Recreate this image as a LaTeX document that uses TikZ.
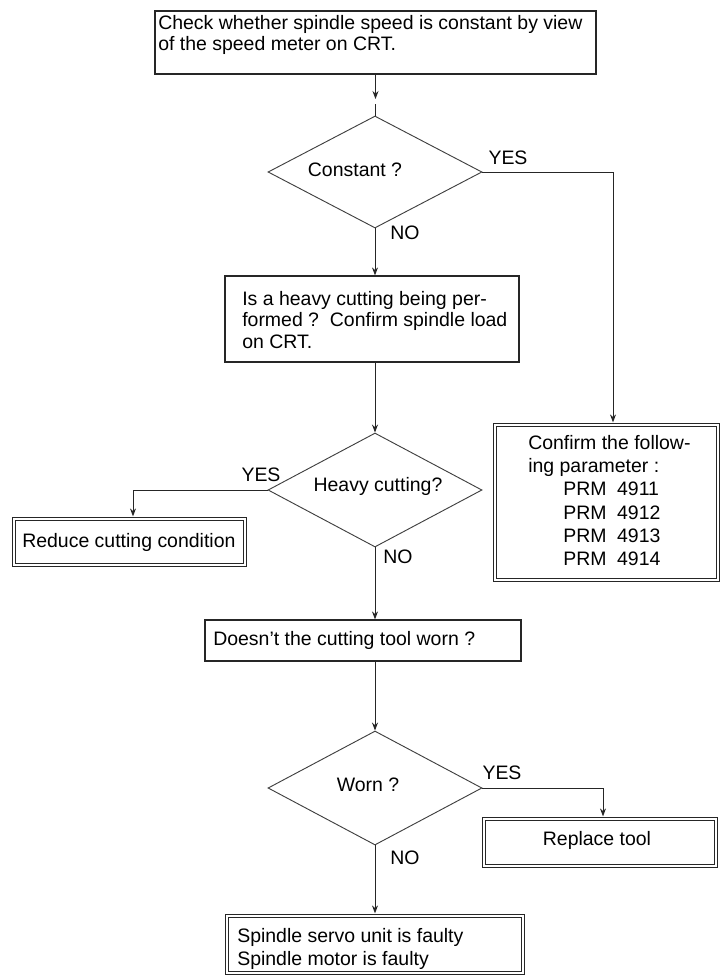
\documentclass[tikz,border=0pt]{standalone}
\usepackage{fontspec}
\setmainfont{Liberation Sans}
\usetikzlibrary{shapes.geometric,arrows.meta}
\begin{document}
\begin{tikzpicture}[x=0.75pt,y=-0.75pt,
  every node/.style={font=\fontsize{14.6}{16.1}\selectfont, inner sep=0pt, text=black},
  box/.style={draw=black!85, line width=0.9pt, inner sep=0pt},
  dbox/.style={draw=black!85, line width=0.7pt, double, double distance=2.2pt, inner sep=0pt},
  dia/.style={diamond, draw=black!75, line width=0.7pt, inner sep=0pt},
  conn/.style={draw=black!85, line width=0.7pt},
  arr/.style={conn, -{Stealth[length=6pt,width=4.5pt]}},
  darr/.style={arr, shorten >=1.6pt},
  txt/.style={anchor=west, align=left},
  lbl/.style={anchor=center}
]
\useasboundingbox (0,0) rectangle (721,976);

% boxes
\node[box, minimum width=330.75pt, minimum height=47.25pt] (b1) at (375.5,42.5) {};
\node[dia, minimum width=160.5pt, minimum height=84pt] (d1) at (375,172) {};
\node[box, minimum width=220.5pt, minimum height=64.5pt] (b2) at (372,319) {};
\node[dia, minimum width=160.5pt, minimum height=85.5pt] (d2) at (375,490) {};
\node[dbox, minimum width=173.25pt, minimum height=34.5pt] (reduce) at (129.5,542) {};
\node[dbox, minimum width=167.25pt, minimum height=116.25pt] (confirm) at (606.5,502.5) {};
\node[box, minimum width=237pt, minimum height=30.75pt] (b3) at (363,640.5) {};
\node[dia, minimum width=160.5pt, minimum height=85.5pt] (d3) at (375,788) {};
\node[dbox, minimum width=174pt, minimum height=35.25pt] (replace) at (600,842.5) {};
\node[dbox, minimum width=222pt, minimum height=42.75pt] (final) at (375,944.5) {};

% texts
\node[txt] (t1) at (158,35) {Check whether spindle speed is constant by view\\of the speed meter on CRT.};
\node[txt] (t2) at (242,320) {Is a heavy cutting being per-\\formed ?\ \ Confirm spindle load\\on CRT.};
\node[txt, font=\fontsize{14.6}{17.5}\selectfont] (t3) at (528,500.5) {Confirm the follow-\\ing parameter :\\\hspace*{26.25pt}PRM\hspace{8pt}4911\\\hspace*{26.25pt}PRM\hspace{8pt}4912\\\hspace*{26.25pt}PRM\hspace{8pt}4913\\\hspace*{26.25pt}PRM\hspace{8pt}4914};
\node[txt] (t4) at (22,542) {Reduce cutting condition};
\node[txt] (t5) at (213,640) {Doesn’t the cutting tool worn ?};
\node[lbl] (t6) at (597,840) {Replace tool};
\node[txt, font=\fontsize{14.6}{17.25}\selectfont] (t7) at (237,948.5) {Spindle servo unit is faulty\\Spindle motor is faulty};

% labels
\node[lbl] (l1) at (355,170) {Constant ?};
\node[lbl] (y1) at (508,158) {YES};
\node[lbl] (n1) at (405,233) {NO};
\node[lbl] (l2) at (378,486) {Heavy cutting?};
\node[lbl] (y2) at (261,475) {YES};
\node[lbl] (n2) at (398,557) {NO};
\node[lbl] (l3) at (368,785) {Worn ?};
\node[lbl] (y3) at (502,773) {YES};
\node[lbl] (n3) at (405,858) {NO};

% connectors
\coordinate (g1) at (375.5,99);
\coordinate (g2) at (375,104);
\draw[arr] (b1.south) -- (g1);
\draw[conn] (g2) -- (d1.north);

\coordinate (c1) at (613,172);
\draw[darr] (d1.east) -- (c1) -- (c1 |- confirm.north);

\draw[arr] (d1.south) -- (d1.south |- b2.north);
\draw[arr] (b2.south -| d2.north) -- (d2.north);

\coordinate (c2) at (133,490);
\draw[darr] (d2.west) -- (c2) -- (c2 |- reduce.north);

\draw[arr] (d2.south) -- (d2.south |- b3.north);
\draw[arr] (b3.south -| d3.north) -- (d3.north);

\coordinate (c3) at (603,788);
\draw[darr] (d3.east) -- (c3) -- (c3 |- replace.north);

\draw[darr] (d3.south) -- (d3.south |- final.north);
\end{tikzpicture}
\end{document}
